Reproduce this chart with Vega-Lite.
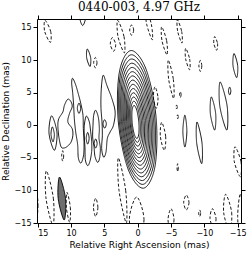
{
"$schema":"https://vega.github.io/schema/vega-lite/v6.json",
"width":204,"height":204,
"autosize":"none",
"padding":{"left":37,"top":19,"right":9,"bottom":32},
"background":"white",
"title":{"text":"0440-003, 4.97 GHz","font":"DejaVu Serif","fontSize":12,"fontWeight":"normal","color":"black","offset":1,"frame":"group","anchor":"middle"},
"config":{
 "view":{"stroke":"black","strokeWidth":1},
 "axis":{"domain":false,"grid":false,"tickColor":"black","tickSize":4,"tickWidth":1,"labelFont":"DejaVu Sans","labelFontSize":8,"labelColor":"black","labelPadding":2,"titleFont":"DejaVu Sans","titleFontSize":9,"titleFontWeight":"normal","titleColor":"black"}
},
"datasets":{
"cont":[
{"c":"k0","t":"p","i":0,"x":2.914,"y":0.652},{"c":"k0","t":"p","i":1,"x":2.736,"y":8.191},{"c":"k0","t":"p","i":2,"x":0.999,"y":11.46},{"c":"k0","t":"p","i":3,"x":-1.279,"y":8.543},{"c":"k0","t":"p","i":4,"x":-2.764,"y":1.149},{"c":"k0","t":"p","i":5,"x":-2.586,"y":-6.391},{"c":"k0","t":"p","i":6,"x":-0.849,"y":-9.66},{"c":"k0","t":"p","i":7,"x":1.429,"y":-6.743},
{"c":"k1","t":"p","i":0,"x":2.754,"y":0.636},{"c":"k1","t":"p","i":1,"x":2.59,"y":7.735},{"c":"k1","t":"p","i":2,"x":0.965,"y":10.812},{"c":"k1","t":"p","i":3,"x":-1.17,"y":8.064},{"c":"k1","t":"p","i":4,"x":-2.564,"y":1.102},{"c":"k1","t":"p","i":5,"x":-2.4,"y":-5.997},{"c":"k1","t":"p","i":6,"x":-0.775,"y":-9.074},{"c":"k1","t":"p","i":7,"x":1.36,"y":-6.326},
{"c":"k2","t":"p","i":0,"x":2.593,"y":0.622},{"c":"k2","t":"p","i":1,"x":2.444,"y":7.28},{"c":"k2","t":"p","i":2,"x":0.93,"y":10.165},{"c":"k2","t":"p","i":3,"x":-1.062,"y":7.587},{"c":"k2","t":"p","i":4,"x":-2.365,"y":1.055},{"c":"k2","t":"p","i":5,"x":-2.216,"y":-5.603},{"c":"k2","t":"p","i":6,"x":-0.702,"y":-8.488},{"c":"k2","t":"p","i":7,"x":1.29,"y":-5.91},
{"c":"k3","t":"p","i":0,"x":2.433,"y":0.606},{"c":"k3","t":"p","i":1,"x":2.298,"y":6.824},{"c":"k3","t":"p","i":2,"x":0.896,"y":9.517},{"c":"k3","t":"p","i":3,"x":-0.953,"y":7.108},{"c":"k3","t":"p","i":4,"x":-2.165,"y":1.009},{"c":"k3","t":"p","i":5,"x":-2.03,"y":-5.208},{"c":"k3","t":"p","i":6,"x":-0.628,"y":-7.901},{"c":"k3","t":"p","i":7,"x":1.221,"y":-5.492},
{"c":"k4","t":"p","i":0,"x":2.273,"y":0.591},{"c":"k4","t":"p","i":1,"x":2.153,"y":6.368},{"c":"k4","t":"p","i":2,"x":0.862,"y":8.869},{"c":"k4","t":"p","i":3,"x":-0.845,"y":6.63},{"c":"k4","t":"p","i":4,"x":-1.966,"y":0.962},{"c":"k4","t":"p","i":5,"x":-1.846,"y":-4.814},{"c":"k4","t":"p","i":6,"x":-0.555,"y":-7.315},{"c":"k4","t":"p","i":7,"x":1.152,"y":-5.076},
{"c":"k5","t":"p","i":0,"x":2.112,"y":0.577},{"c":"k5","t":"p","i":1,"x":2.007,"y":5.911},{"c":"k5","t":"p","i":2,"x":0.827,"y":8.221},{"c":"k5","t":"p","i":3,"x":-0.736,"y":6.152},{"c":"k5","t":"p","i":4,"x":-1.766,"y":0.916},{"c":"k5","t":"p","i":5,"x":-1.661,"y":-4.419},{"c":"k5","t":"p","i":6,"x":-0.481,"y":-6.729},{"c":"k5","t":"p","i":7,"x":1.082,"y":-4.66},
{"c":"k6","t":"p","i":0,"x":1.951,"y":0.562},{"c":"k6","t":"p","i":1,"x":1.86,"y":5.456},{"c":"k6","t":"p","i":2,"x":0.793,"y":7.574},{"c":"k6","t":"p","i":3,"x":-0.626,"y":5.674},{"c":"k6","t":"p","i":4,"x":-1.565,"y":0.869},{"c":"k6","t":"p","i":5,"x":-1.474,"y":-4.026},{"c":"k6","t":"p","i":6,"x":-0.407,"y":-6.144},{"c":"k6","t":"p","i":7,"x":1.012,"y":-4.244},
{"c":"k7","t":"p","i":0,"x":1.791,"y":0.546},{"c":"k7","t":"p","i":1,"x":1.715,"y":5.0},{"c":"k7","t":"p","i":2,"x":0.758,"y":6.926},{"c":"k7","t":"p","i":3,"x":-0.518,"y":5.196},{"c":"k7","t":"p","i":4,"x":-1.367,"y":0.823},{"c":"k7","t":"p","i":5,"x":-1.291,"y":-3.63},{"c":"k7","t":"p","i":6,"x":-0.334,"y":-5.556},{"c":"k7","t":"p","i":7,"x":0.942,"y":-3.826},
{"c":"k8","t":"p","i":0,"x":1.631,"y":0.531},{"c":"k8","t":"p","i":1,"x":1.569,"y":4.544},{"c":"k8","t":"p","i":2,"x":0.724,"y":6.278},{"c":"k8","t":"p","i":3,"x":-0.409,"y":4.717},{"c":"k8","t":"p","i":4,"x":-1.167,"y":0.776},{"c":"k8","t":"p","i":5,"x":-1.105,"y":-3.236},{"c":"k8","t":"p","i":6,"x":-0.26,"y":-4.97},{"c":"k8","t":"p","i":7,"x":0.873,"y":-3.409},
{"c":"k9","t":"p","i":0,"x":1.47,"y":0.516},{"c":"k9","t":"p","i":1,"x":1.423,"y":4.089},{"c":"k9","t":"p","i":2,"x":0.69,"y":5.631},{"c":"k9","t":"p","i":3,"x":-0.3,"y":4.24},{"c":"k9","t":"p","i":4,"x":-0.967,"y":0.73},{"c":"k9","t":"p","i":5,"x":-0.92,"y":-2.843},{"c":"k9","t":"p","i":6,"x":-0.187,"y":-4.385},{"c":"k9","t":"p","i":7,"x":0.803,"y":-2.994},
{"c":"k10","t":"p","i":0,"x":1.309,"y":0.501},{"c":"k10","t":"p","i":1,"x":1.277,"y":3.633},{"c":"k10","t":"p","i":2,"x":0.655,"y":4.983},{"c":"k10","t":"p","i":3,"x":-0.191,"y":3.761},{"c":"k10","t":"p","i":4,"x":-0.767,"y":0.683},{"c":"k10","t":"p","i":5,"x":-0.735,"y":-2.449},{"c":"k10","t":"p","i":6,"x":-0.113,"y":-3.799},{"c":"k10","t":"p","i":7,"x":0.733,"y":-2.577},
{"c":"k11","t":"p","i":0,"x":1.149,"y":0.486},{"c":"k11","t":"p","i":1,"x":1.131,"y":3.178},{"c":"k11","t":"p","i":2,"x":0.621,"y":4.337},{"c":"k11","t":"p","i":3,"x":-0.082,"y":3.284},{"c":"k11","t":"p","i":4,"x":-0.567,"y":0.637},{"c":"k11","t":"p","i":5,"x":-0.549,"y":-2.055},{"c":"k11","t":"p","i":6,"x":-0.039,"y":-3.214},{"c":"k11","t":"p","i":7,"x":0.664,"y":-2.161},
{"c":"k12","t":"p","i":0,"x":0.988,"y":0.471},{"c":"k12","t":"p","i":1,"x":0.985,"y":2.721},{"c":"k12","t":"p","i":2,"x":0.586,"y":3.688},{"c":"k12","t":"p","i":3,"x":0.026,"y":2.805},{"c":"k12","t":"p","i":4,"x":-0.368,"y":0.59},{"c":"k12","t":"p","i":5,"x":-0.365,"y":-1.659},{"c":"k12","t":"p","i":6,"x":0.034,"y":-2.626},{"c":"k12","t":"p","i":7,"x":0.594,"y":-1.743},
{"c":"k13","t":"p","i":0,"x":0.828,"y":0.456},{"c":"k13","t":"p","i":1,"x":0.839,"y":2.265},{"c":"k13","t":"p","i":2,"x":0.552,"y":3.04},{"c":"k13","t":"p","i":3,"x":0.135,"y":2.327},{"c":"k13","t":"p","i":4,"x":-0.168,"y":0.544},{"c":"k13","t":"p","i":5,"x":-0.179,"y":-1.265},{"c":"k13","t":"p","i":6,"x":0.108,"y":-2.04},{"c":"k13","t":"p","i":7,"x":0.525,"y":-1.327},
{"c":"B","t":"p","i":0,"x":11.475,"y":-3.33},{"c":"B","t":"p","i":1,"x":11.82,"y":-1.79},{"c":"B","t":"p","i":2,"x":11.97,"y":0},{"c":"B","t":"p","i":3,"x":11.82,"y":1.03},{"c":"B","t":"p","i":4,"x":11.22,"y":2.04},{"c":"B","t":"p","i":5,"x":10.98,"y":3.07},{"c":"B","t":"p","i":6,"x":10.47,"y":4.0},{"c":"B","t":"p","i":7,"x":9.98,"y":3.57},{"c":"B","t":"p","i":8,"x":9.83,"y":2.81},{"c":"B","t":"p","i":9,"x":10.23,"y":1.79},{"c":"B","t":"p","i":10,"x":10.47,"y":0.51},{"c":"B","t":"p","i":11,"x":9.83,"y":-0.51},{"c":"B","t":"p","i":12,"x":9.72,"y":-1.53},{"c":"B","t":"p","i":13,"x":9.98,"y":-2.56},{"c":"B","t":"p","i":14,"x":10.47,"y":-3.17},{"c":"B","t":"p","i":15,"x":10.98,"y":-3.48},
{"c":"C","t":"p","i":0,"x":9.75,"y":7.2},{"c":"C","t":"p","i":1,"x":9.3,"y":6.2},{"c":"C","t":"p","i":2,"x":8.9,"y":4.8},{"c":"C","t":"p","i":3,"x":8.5,"y":3.2},{"c":"C","t":"p","i":4,"x":8.2,"y":1.5},{"c":"C","t":"p","i":5,"x":8.15,"y":-0.5},{"c":"C","t":"p","i":6,"x":8.05,"y":-2.5},{"c":"C","t":"p","i":7,"x":8.1,"y":-4.5},{"c":"C","t":"p","i":8,"x":8.5,"y":-5.8},{"c":"C","t":"p","i":9,"x":8.9,"y":-5.0},{"c":"C","t":"p","i":10,"x":9.0,"y":-3.0},{"c":"C","t":"p","i":11,"x":9.3,"y":-1.0},{"c":"C","t":"p","i":12,"x":9.5,"y":1.0},{"c":"C","t":"p","i":13,"x":9.6,"y":3.0},{"c":"C","t":"p","i":14,"x":9.75,"y":5.0},{"c":"C","t":"p","i":15,"x":9.9,"y":6.5},
{"c":"E","t":"p","i":0,"x":7.7,"y":1.4},{"c":"E","t":"p","i":1,"x":7.25,"y":0.5},{"c":"E","t":"p","i":2,"x":7.05,"y":-1.0},{"c":"E","t":"p","i":3,"x":6.9,"y":-2.5},{"c":"E","t":"p","i":4,"x":6.9,"y":-4.0},{"c":"E","t":"p","i":5,"x":7.15,"y":-5.5},{"c":"E","t":"p","i":6,"x":7.5,"y":-6.2},{"c":"E","t":"p","i":7,"x":7.85,"y":-5.3},{"c":"E","t":"p","i":8,"x":7.9,"y":-3.5},{"c":"E","t":"p","i":9,"x":8.0,"y":-1.8},{"c":"E","t":"p","i":10,"x":8.0,"y":0.0},
{"c":"F","t":"p","i":0,"x":6.3,"y":2.3},{"c":"F","t":"p","i":1,"x":5.9,"y":1.2},{"c":"F","t":"p","i":2,"x":5.75,"y":-0.5},{"c":"F","t":"p","i":3,"x":5.8,"y":-2.0},{"c":"F","t":"p","i":4,"x":5.6,"y":-3.5},{"c":"F","t":"p","i":5,"x":5.7,"y":-5.0},{"c":"F","t":"p","i":6,"x":6.0,"y":-5.7},{"c":"F","t":"p","i":7,"x":6.4,"y":-4.8},{"c":"F","t":"p","i":8,"x":6.55,"y":-3.3},{"c":"F","t":"p","i":9,"x":6.75,"y":-1.8},{"c":"F","t":"p","i":10,"x":6.7,"y":0.0},{"c":"F","t":"p","i":11,"x":6.6,"y":1.5},
{"c":"D","t":"p","i":0,"x":5.13,"y":7.67},{"c":"D","t":"p","i":1,"x":4.62,"y":6.13},{"c":"D","t":"p","i":2,"x":3.87,"y":4.1},{"c":"D","t":"p","i":3,"x":3.38,"y":2.04},{"c":"D","t":"p","i":4,"x":3.63,"y":0},{"c":"D","t":"p","i":5,"x":4.13,"y":-1.03},{"c":"D","t":"p","i":6,"x":4.55,"y":-2.04},{"c":"D","t":"p","i":7,"x":4.75,"y":-4.1},{"c":"D","t":"p","i":8,"x":5.1,"y":-4.9},{"c":"D","t":"p","i":9,"x":5.4,"y":-3.6},{"c":"D","t":"p","i":10,"x":5.3,"y":-1.53},{"c":"D","t":"p","i":11,"x":5.35,"y":0.51},{"c":"D","t":"p","i":12,"x":5.5,"y":2.56},{"c":"D","t":"p","i":13,"x":5.5,"y":4.6},{"c":"D","t":"p","i":14,"x":5.37,"y":6.64},
{"c":"p1","t":"p","i":0,"x":7.55,"y":11.7},{"c":"p1","t":"p","i":1,"x":7.05,"y":10.35},{"c":"p1","t":"p","i":2,"x":7.15,"y":9.0},{"c":"p1","t":"p","i":3,"x":7.65,"y":10.35},
{"c":"p2","t":"p","i":0,"x":8.25,"y":17.9},{"c":"p2","t":"p","i":1,"x":7.8,"y":16.6},{"c":"p2","t":"p","i":2,"x":8.25,"y":15.3},{"c":"p2","t":"p","i":3,"x":8.7,"y":16.6},
{"c":"p3","t":"p","i":0,"x":-14.45,"y":11.0},{"c":"p3","t":"p","i":1,"x":-15.0,"y":9.15},{"c":"p3","t":"p","i":2,"x":-14.85,"y":7.3},{"c":"p3","t":"p","i":3,"x":-14.3,"y":9.15},
{"c":"p4","t":"p","i":0,"x":-13.8,"y":5.85},{"c":"p4","t":"p","i":1,"x":-13.98,"y":5.25},{"c":"p4","t":"p","i":2,"x":-13.8,"y":4.65},{"c":"p4","t":"p","i":3,"x":-13.62,"y":5.25},
{"c":"p5","t":"p","i":0,"x":-12.37,"y":6.65},{"c":"p5","t":"p","i":1,"x":-13.42,"y":2.95},{"c":"p5","t":"p","i":2,"x":-13.37,"y":-0.75},{"c":"p5","t":"p","i":3,"x":-12.32,"y":2.95},
{"c":"p6","t":"p","i":0,"x":-11.05,"y":4.35},{"c":"p6","t":"p","i":1,"x":-11.7,"y":1.8},{"c":"p6","t":"p","i":2,"x":-11.55,"y":-0.75},{"c":"p6","t":"p","i":3,"x":-10.9,"y":1.8},
{"c":"p7","t":"p","i":0,"x":-7.08,"y":1.55},{"c":"p7","t":"p","i":1,"x":-7.38,"y":-0.9},{"c":"p7","t":"p","i":2,"x":-7.08,"y":-3.35},{"c":"p7","t":"p","i":3,"x":-6.78,"y":-0.9},
{"c":"p8","t":"p","i":0,"x":-8.9,"y":0.5},{"c":"p8","t":"p","i":1,"x":-9.65,"y":-2.7},{"c":"p8","t":"p","i":2,"x":-9.6,"y":-5.9},{"c":"p8","t":"p","i":3,"x":-8.85,"y":-2.7},
{"c":"p9","t":"p","i":0,"x":12.9,"y":1.45},{"c":"p9","t":"p","i":1,"x":12.1,"y":-1.2},{"c":"p9","t":"p","i":2,"x":12.5,"y":-3.85},{"c":"p9","t":"p","i":3,"x":13.3,"y":-1.2},
{"c":"p10","t":"p","i":0,"x":12.8,"y":-0.25},{"c":"p10","t":"p","i":1,"x":12.5,"y":-1.4},{"c":"p10","t":"p","i":2,"x":12.7,"y":-2.55},{"c":"p10","t":"p","i":3,"x":13.0,"y":-1.4},
{"c":"p11","t":"p","i":0,"x":8.8,"y":3.4},{"c":"p11","t":"p","i":1,"x":8.55,"y":2.6},{"c":"p11","t":"p","i":2,"x":8.8,"y":1.8},{"c":"p11","t":"p","i":3,"x":9.05,"y":2.6},
{"c":"p12","t":"p","i":0,"x":7.5,"y":-1.1},{"c":"p12","t":"p","i":1,"x":7.28,"y":-2.0},{"c":"p12","t":"p","i":2,"x":7.5,"y":-2.9},{"c":"p12","t":"p","i":3,"x":7.72,"y":-2.0},
{"c":"p13","t":"p","i":0,"x":6.3,"y":-2.1},{"c":"p13","t":"p","i":1,"x":6.08,"y":-2.8},{"c":"p13","t":"p","i":2,"x":6.3,"y":-3.5},{"c":"p13","t":"p","i":3,"x":6.52,"y":-2.8},
{"c":"p14","t":"p","i":0,"x":4.95,"y":0.85},{"c":"p14","t":"p","i":1,"x":4.7,"y":0.2},{"c":"p14","t":"p","i":2,"x":4.95,"y":-0.45},{"c":"p14","t":"p","i":3,"x":5.2,"y":0.2},
{"c":"n1","t":"n","i":0,"x":13.9,"y":16.1},{"c":"n1","t":"n","i":1,"x":13.05,"y":14.4},{"c":"n1","t":"n","i":2,"x":13.1,"y":12.7},{"c":"n1","t":"n","i":3,"x":13.95,"y":14.4},
{"c":"n2","t":"n","i":0,"x":3.0,"y":16.1},{"c":"n2","t":"n","i":1,"x":2.05,"y":13.6},{"c":"n2","t":"n","i":2,"x":2.0,"y":11.1},{"c":"n2","t":"n","i":3,"x":2.95,"y":13.6},
{"c":"n3","t":"n","i":0,"x":3.8,"y":13.45},{"c":"n3","t":"n","i":1,"x":3.3,"y":12.4},{"c":"n3","t":"n","i":2,"x":3.6,"y":11.35},{"c":"n3","t":"n","i":3,"x":4.1,"y":12.4},
{"c":"n4","t":"n","i":0,"x":0.9,"y":15.4},{"c":"n4","t":"n","i":1,"x":0.6,"y":14.6},{"c":"n4","t":"n","i":2,"x":0.9,"y":13.8},{"c":"n4","t":"n","i":3,"x":1.2,"y":14.6},
{"c":"n5","t":"n","i":0,"x":6.35,"y":10.4},{"c":"n5","t":"n","i":1,"x":6.1,"y":9.6},{"c":"n5","t":"n","i":2,"x":6.35,"y":8.8},{"c":"n5","t":"n","i":3,"x":6.6,"y":9.6},
{"c":"n6","t":"n","i":0,"x":-1.2,"y":17.9},{"c":"n6","t":"n","i":1,"x":-2.05,"y":15.5},{"c":"n6","t":"n","i":2,"x":-2.2,"y":13.1},{"c":"n6","t":"n","i":3,"x":-1.35,"y":15.5},
{"c":"n7","t":"n","i":0,"x":-3.6,"y":15.1},{"c":"n7","t":"n","i":1,"x":-4.35,"y":12.95},{"c":"n7","t":"n","i":2,"x":-4.4,"y":10.8},{"c":"n7","t":"n","i":3,"x":-3.65,"y":12.95},
{"c":"n8","t":"n","i":0,"x":-5.95,"y":16.2},{"c":"n8","t":"n","i":1,"x":-6.6,"y":14.4},{"c":"n8","t":"n","i":2,"x":-6.65,"y":12.6},{"c":"n8","t":"n","i":3,"x":-6.0,"y":14.4},
{"c":"n9","t":"n","i":0,"x":-7.2,"y":11.8},{"c":"n9","t":"n","i":1,"x":-7.8,"y":10.15},{"c":"n9","t":"n","i":2,"x":-7.8,"y":8.5},{"c":"n9","t":"n","i":3,"x":-7.2,"y":10.15},
{"c":"n10","t":"n","i":0,"x":-4.6,"y":10.0},{"c":"n10","t":"n","i":1,"x":-5.35,"y":7.05},{"c":"n10","t":"n","i":2,"x":-5.4,"y":4.1},{"c":"n10","t":"n","i":3,"x":-4.65,"y":7.05},
{"c":"n11","t":"n","i":0,"x":-9.4,"y":9.95},{"c":"n11","t":"n","i":1,"x":-9.62,"y":9.1},{"c":"n11","t":"n","i":2,"x":-9.4,"y":8.25},{"c":"n11","t":"n","i":3,"x":-9.18,"y":9.1},
{"c":"n12","t":"n","i":0,"x":-11.55,"y":13.6},{"c":"n12","t":"n","i":1,"x":-11.98,"y":12.55},{"c":"n12","t":"n","i":2,"x":-11.85,"y":11.5},{"c":"n12","t":"n","i":3,"x":-11.42,"y":12.55},
{"c":"n13","t":"n","i":0,"x":-2.6,"y":5.9},{"c":"n13","t":"n","i":1,"x":-3.05,"y":4.25},{"c":"n13","t":"n","i":2,"x":-2.8,"y":2.6},{"c":"n13","t":"n","i":3,"x":-2.35,"y":4.25},
{"c":"n14","t":"n","i":0,"x":-6.4,"y":5.15},{"c":"n14","t":"n","i":1,"x":-6.52,"y":4.7},{"c":"n14","t":"n","i":2,"x":-6.4,"y":4.25},{"c":"n14","t":"n","i":3,"x":-6.28,"y":4.7},
{"c":"n15","t":"n","i":0,"x":-5.85,"y":3.1},{"c":"n15","t":"n","i":1,"x":-5.95,"y":2.8},{"c":"n15","t":"n","i":2,"x":-5.85,"y":2.5},{"c":"n15","t":"n","i":3,"x":-5.75,"y":2.8},
{"c":"n16","t":"n","i":0,"x":-6.0,"y":1.6},{"c":"n16","t":"n","i":1,"x":-6.1,"y":1.3},{"c":"n16","t":"n","i":2,"x":-6.0,"y":1.0},{"c":"n16","t":"n","i":3,"x":-5.9,"y":1.3},
{"c":"n17","t":"n","i":0,"x":-3.6,"y":0.45},{"c":"n17","t":"n","i":1,"x":-4.2,"y":-1.7},{"c":"n17","t":"n","i":2,"x":-4.0,"y":-3.85},{"c":"n17","t":"n","i":3,"x":-3.4,"y":-1.7},
{"c":"n18","t":"n","i":0,"x":-14.6,"y":-3.3},{"c":"n18","t":"n","i":1,"x":-15.5,"y":-5.6},{"c":"n18","t":"n","i":2,"x":-15.4,"y":-7.9},{"c":"n18","t":"n","i":3,"x":-14.5,"y":-5.6},
{"c":"n19","t":"n","i":0,"x":-6.0,"y":-5.9},{"c":"n19","t":"n","i":1,"x":-6.1,"y":-6.5},{"c":"n19","t":"n","i":2,"x":-6.0,"y":-7.1},{"c":"n19","t":"n","i":3,"x":-5.9,"y":-6.5},
{"c":"n20","t":"n","i":0,"x":-5.0,"y":-12.8},{"c":"n20","t":"n","i":1,"x":-5.45,"y":-14.5},{"c":"n20","t":"n","i":2,"x":-5.0,"y":-16.2},{"c":"n20","t":"n","i":3,"x":-4.55,"y":-14.5},
{"c":"n21","t":"n","i":0,"x":-7.3,"y":-10.7},{"c":"n21","t":"n","i":1,"x":-7.7,"y":-11.85},{"c":"n21","t":"n","i":2,"x":-7.3,"y":-13.0},{"c":"n21","t":"n","i":3,"x":-6.9,"y":-11.85},
{"c":"n22","t":"n","i":0,"x":-9.3,"y":-13.0},{"c":"n22","t":"n","i":1,"x":-9.45,"y":-13.5},{"c":"n22","t":"n","i":2,"x":-9.3,"y":-14.0},{"c":"n22","t":"n","i":3,"x":-9.15,"y":-13.5},
{"c":"n23","t":"n","i":0,"x":-11.2,"y":-12.8},{"c":"n23","t":"n","i":1,"x":-11.75,"y":-14.3},{"c":"n23","t":"n","i":2,"x":-11.4,"y":-15.8},{"c":"n23","t":"n","i":3,"x":-10.85,"y":-14.3},
{"c":"n24","t":"n","i":0,"x":-13.2,"y":-10.6},{"c":"n24","t":"n","i":1,"x":-14.1,"y":-13.4},{"c":"n24","t":"n","i":2,"x":-13.8,"y":-16.2},{"c":"n24","t":"n","i":3,"x":-12.9,"y":-13.4},
{"c":"n25","t":"n","i":0,"x":-15.4,"y":-10.5},{"c":"n25","t":"n","i":1,"x":-15.8,"y":-14.0},{"c":"n25","t":"n","i":2,"x":-15.4,"y":-17.5},{"c":"n25","t":"n","i":3,"x":-15.0,"y":-14.0},
{"c":"n26","t":"n","i":0,"x":15.4,"y":-8.8},{"c":"n26","t":"n","i":1,"x":14.95,"y":-12.3},{"c":"n26","t":"n","i":2,"x":15.4,"y":-15.8},{"c":"n26","t":"n","i":3,"x":15.85,"y":-12.3},
{"c":"n27","t":"n","i":0,"x":13.7,"y":-7.0},{"c":"n27","t":"n","i":1,"x":12.65,"y":-11.2},{"c":"n27","t":"n","i":2,"x":12.7,"y":-15.4},{"c":"n27","t":"n","i":3,"x":13.75,"y":-11.2},
{"c":"n28","t":"n","i":0,"x":10.6,"y":-10.3},{"c":"n28","t":"n","i":1,"x":10.1,"y":-12.6},{"c":"n28","t":"n","i":2,"x":10.2,"y":-14.9},{"c":"n28","t":"n","i":3,"x":10.7,"y":-12.6},
{"c":"n29","t":"n","i":0,"x":6.3,"y":-11.2},{"c":"n29","t":"n","i":1,"x":5.97,"y":-12.6},{"c":"n29","t":"n","i":2,"x":6.3,"y":-14.0},{"c":"n29","t":"n","i":3,"x":6.63,"y":-12.6},
{"c":"n30","t":"n","i":0,"x":2.9,"y":-5.0},{"c":"n30","t":"n","i":1,"x":1.8,"y":-10.0},{"c":"n30","t":"n","i":2,"x":1.7,"y":-15.0},{"c":"n30","t":"n","i":3,"x":2.8,"y":-10.0},
{"c":"n31","t":"n","i":0,"x":0.15,"y":-11.0},{"c":"n31","t":"n","i":1,"x":-0.95,"y":-14.5},{"c":"n31","t":"n","i":2,"x":0.15,"y":-18.0},{"c":"n31","t":"n","i":3,"x":1.25,"y":-14.5},
{"c":"n32","t":"n","i":0,"x":11.25,"y":-3.9},{"c":"n32","t":"n","i":1,"x":11.1,"y":-4.7},{"c":"n32","t":"n","i":2,"x":11.25,"y":-5.5},{"c":"n32","t":"n","i":3,"x":11.4,"y":-4.7}
],
"blob":[
{"i":0,"x":11.72,"y":-7.95},{"i":1,"x":10.82,"y":-11.25},{"i":2,"x":11.02,"y":-14.55},{"i":3,"x":11.92,"y":-11.25}
]
},
"layer":[
{"data":{"name":"cont"},
 "mark":{"type":"line","interpolate":"cardinal-closed","strokeWidth":0.9,"color":"black","clip":true},
 "encoding":{
  "x":{"field":"x","type":"quantitative","scale":{"domain":[15.1,-15.5],"nice":false,"zero":false},"axis":{"orient":"bottom","values":[15,10,5,0,-5,-10,-15],"title":"Relative Right Ascension (mas)","titlePadding":3}},
  "y":{"field":"y","type":"quantitative","scale":{"domain":[-15,16.3],"nice":false,"zero":false},"axis":{"orient":"left","values":[-15,-10,-5,0,5,10,15],"title":"Relative Declination (mas)","titlePadding":4}},
  "detail":{"field":"c","type":"nominal"},
  "order":{"field":"i","type":"quantitative"},
  "strokeDash":{"field":"t","type":"nominal","scale":{"domain":["p","n"],"range":[[1,0],[3,2]]},"legend":null}
 }},
{"data":{"name":"blob"},
 "mark":{"type":"line","interpolate":"cardinal-closed","strokeWidth":0.9,"stroke":"black","fill":"#6e6e6e","clip":true},
 "encoding":{
  "x":{"field":"x","type":"quantitative","axis":{"orient":"top","values":[15,10,5,0,-5,-10,-15],"labels":false,"title":null}},
  "y":{"field":"y","type":"quantitative","axis":{"orient":"right","values":[-15,-10,-5,0,5,10,15],"labels":false,"title":null}},
  "order":{"field":"i","type":"quantitative"}
 }}
],
"resolve":{"axis":{"x":"independent","y":"independent"}}
}
